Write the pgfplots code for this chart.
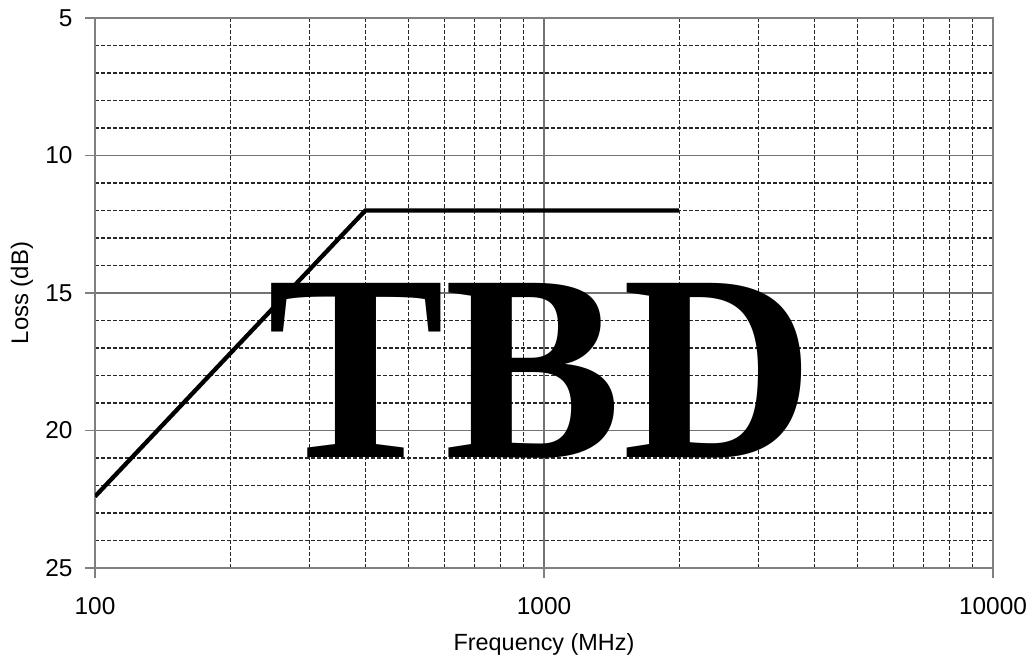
\documentclass[border=0pt]{standalone}
\usepackage{pgfplots}
\pgfplotsset{compat=1.18}
\usepackage{fontspec}
\setmainfont{Liberation Sans}
\newfontfamily\tbdfont{Liberation Serif}
\begin{document}
\begin{tikzpicture}
\begin{axis}[
  name=ax,
  scale only axis,
  width=898bp, height=550bp,
  xmode=log, log basis x=10,
  xmin=100, xmax=10000,
  ymin=5, ymax=25, y dir=reverse,
  xtick={100,1000,10000},
  xticklabels={100,1000,10000},
  minor xtick={200,300,400,500,600,700,800,900,2000,3000,4000,5000,6000,7000,8000,9000},
  ytick={5,10,15,20,25},
  minor ytick={6,7,8,9,11,12,13,14,16,17,18,19,21,22,23,24},
  grid=both,
  major grid style={black!55, line width=1.3bp},
  minor grid style={black!85, line width=1.1bp, dash pattern=on 3.5bp off 2.5bp},
  axis line style={black!50, line width=1.6bp},
  tickpos=left, tick align=outside,
  major tick length=10bp, minor tick length=0pt,
  major tick style={black!50, line width=1.2bp},
  /pgf/number format/assume math mode=true,
  ticklabel style={font=\fontsize{24.5}{28}\selectfont},
  xticklabel style={anchor=center, yshift=-28bp},
  yticklabel style={anchor=east, xshift=-9bp},
  xlabel={Frequency (MHz)},
  ylabel={Loss (dB)},
  xlabel style={font=\fontsize{23.5}{27}\selectfont, anchor=center, at={(axis description cs:0.5,0)}, yshift=-76bp},
  ylabel style={font=\fontsize{24}{27}\selectfont, anchor=center, at={(axis description cs:0,0.5)}, yshift=73bp},
]
\addplot[black, line width=4.3bp] coordinates {(100,22.4) (400,12) (2000,12)};
\node[font=\tbdfont\bfseries\fontsize{267}{267}\selectfont, anchor=base, inner sep=0pt] at (axis description cs:0.4965,0.2018) {TBD};
\end{axis}
\pgfresetboundingbox
\path[use as bounding box] ([shift={(-95bp,-93bp)}]ax.south west) rectangle ([shift={(40bp,18bp)}]ax.north east);
\end{tikzpicture}
\end{document}
